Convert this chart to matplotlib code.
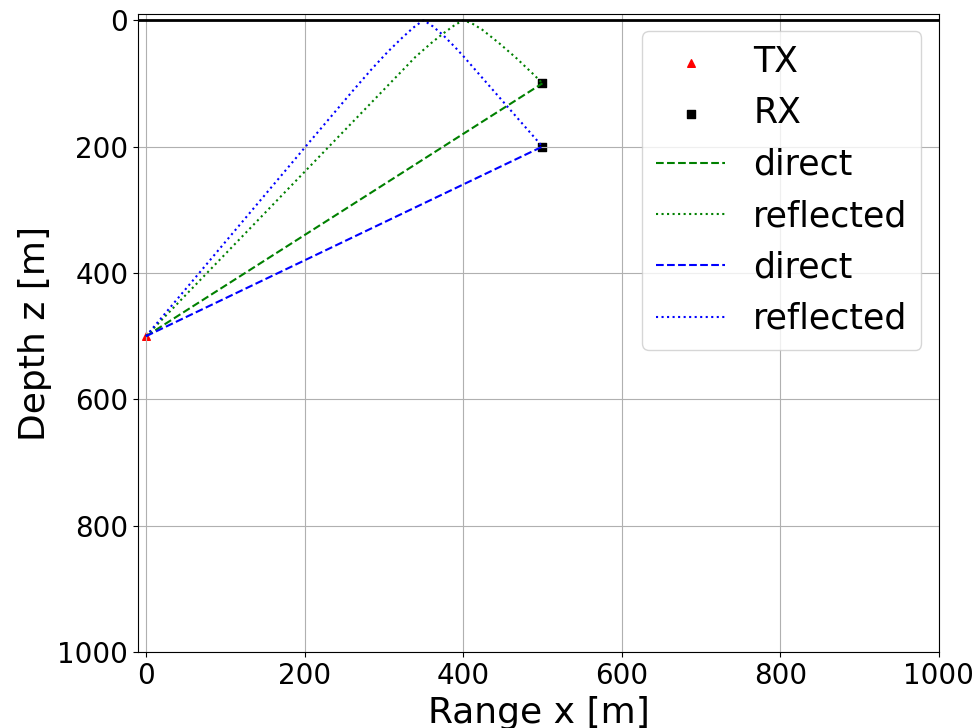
# Ray paths from a transmitter to two receivers: direct and surface-reflected
import matplotlib
matplotlib.use("Agg")
import matplotlib.pyplot as plt

# source / receiver positions (x [m], z [m])
tx = (0, 500)
rx_x = [500, 500]
rx_z = [100, 200]

# ray paths for receiver at 100 m depth (green)
direct1_x = [0, 500]
direct1_z = [500, 100]
refl1_x = [0, 100, 200, 300, 340, 360, 375, 388, 400,
           411, 424, 434, 445, 457, 468, 478, 489, 500]
refl1_z = [500, 370, 240, 110, 58, 36, 21, 9, 0,
           5, 15, 25, 36, 49, 61, 73, 86, 100]

# ray paths for receiver at 200 m depth (blue)
direct2_x = [0, 500]
direct2_z = [500, 200]
refl2_x = [0, 100, 200, 260, 285, 305, 323, 337, 350,
           362, 375, 390, 401, 440, 470, 500]
refl2_z = [500, 351, 202, 113, 77, 50, 28, 12, 0,
           10, 24, 43, 58, 114, 157, 200]

fig = plt.figure(figsize=(9.79, 7.28), dpi=100)
ax = fig.add_axes([0.141, 0.104, 0.818, 0.877])

ax.scatter([tx[0]], [tx[1]], marker='^', color='red', s=30, label='TX')
ax.scatter(rx_x, rx_z, marker='s', color='black', s=30, label='RX')

ax.plot(direct1_x, direct1_z, '--', color='green', label='direct')
ax.plot(refl1_x, refl1_z, ':', color='green', label='reflected')
ax.plot(direct2_x, direct2_z, '--', color='blue', label='direct')
ax.plot(refl2_x, refl2_z, ':', color='blue', label='reflected')

# ice surface
ax.axhline(0, color='black', lw=2)

ax.set_xlim(-10, 1000)
ax.set_ylim(1000, -10)
ax.set_xlabel('Range x [m]', fontsize=26)
ax.set_ylabel('Depth z [m]', fontsize=26)
ax.tick_params(labelsize=20)
ax.grid(True)
ax.legend(loc='upper right', fontsize=25)

fig.savefig('out.png', dpi=100)
